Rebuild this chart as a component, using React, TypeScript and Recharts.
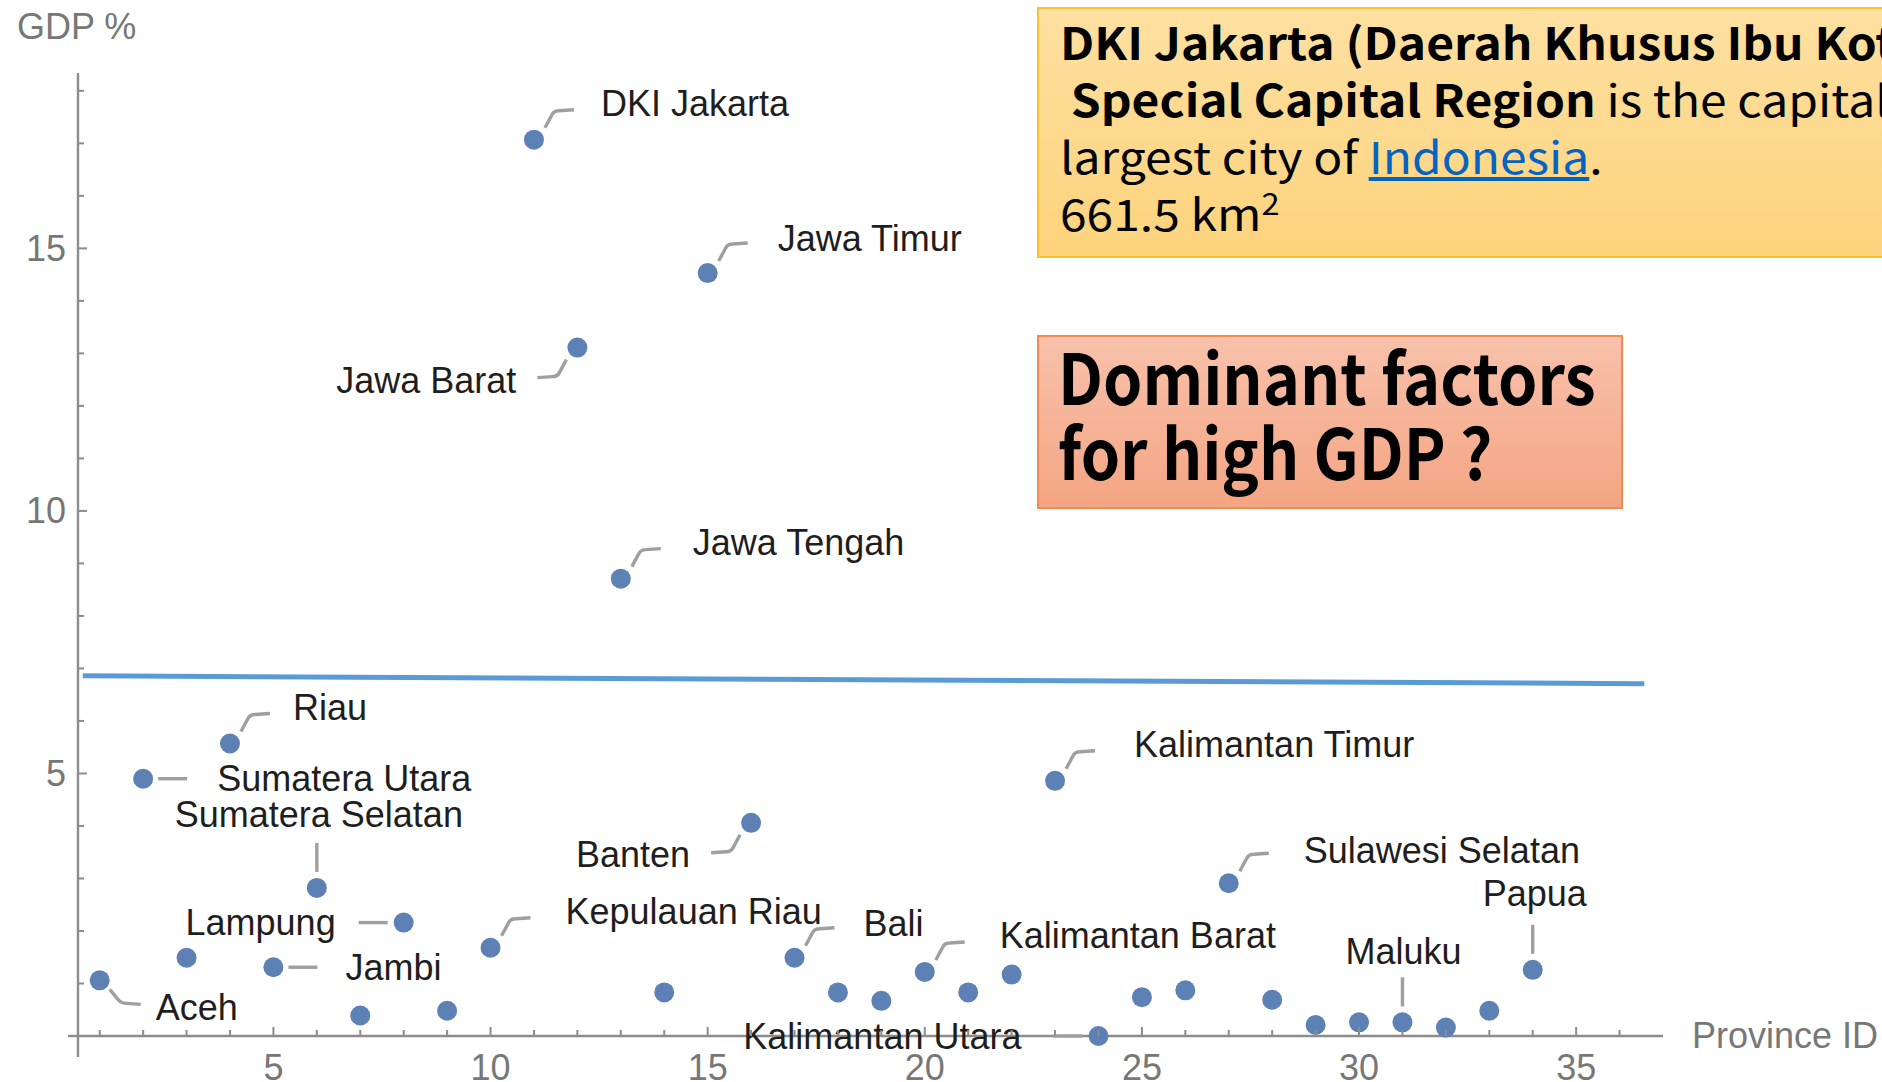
import React from "react";
import { Label, ReferenceLine, Scatter, ScatterChart, XAxis, YAxis } from "recharts";

if (typeof document !== "undefined") document.body.style.margin = "0";

// province id (BPS order) and share of national GDP, %
const provinceIds = [
  1, 2, 3, 4, 5, 6, 7, 8, 9, 10, 11, 12, 13, 14, 15, 16, 17,
  18, 19, 20, 21, 22, 23, 24, 25, 26, 27, 28, 29, 30, 31, 32, 33, 34,
];
const gdpShare = [
  1.06, 4.9, 1.49, 5.57, 1.31, 2.82, 0.39, 2.16, 0.48, 1.68, 17.07, 13.11, 8.71, 0.83, 14.53, 4.06, 1.49,
  0.83, 0.67, 1.22, 0.83, 1.17, 4.86, 0.0, 0.74, 0.87, 2.91, 0.69, 0.21, 0.26, 0.26, 0.16, 0.48, 1.26,
];
const calloutNames: Record<number, string> = {
  1: "Aceh",
  2: "Sumatera Utara",
  4: "Riau",
  5: "Jambi",
  6: "Sumatera Selatan",
  8: "Lampung",
  10: "Kepulauan Riau",
  11: "DKI Jakarta",
  12: "Jawa Barat",
  13: "Jawa Tengah",
  15: "Jawa Timur",
  16: "Banten",
  17: "Bali",
  20: "Kalimantan Barat",
  23: "Kalimantan Timur",
  24: "Kalimantan Utara",
  27: "Sulawesi Selatan",
  31: "Maluku",
  34: "Papua",
};

const xTicks = [
  1, 2, 3, 4, 5, 6, 7, 8, 9, 10, 11, 12, 13, 14, 15, 16, 17, 18,
  19, 20, 21, 22, 23, 24, 25, 26, 27, 28, 29, 30, 31, 32, 33, 34, 35, 36,
];
const xLabels = [5, 10, 15, 20, 25, 30, 35];
const yTicks = [1, 2, 3, 4, 5, 6, 7, 8, 9, 10, 11, 12, 13, 14, 15, 16, 17, 18];
const yLabels = [5, 10, 15];

// hand drawn divider on the slide
const dividerLine = [
  { x: 0.61, y: 6.86 },
  { x: 36.57, y: 6.71 },
];

const data = provinceIds.map((id, i) => ({ id, gdp: gdpShare[i], name: calloutNames[id] }));

// where each callout sits around its dot
type Dir = "ur" | "dl" | "dr" | "r" | "l" | "u";
const calloutPlace: Record<string, { dir: Dir; dx: number; dy: number }> = {
  "DKI Jakarta": { dir: "ur", dx: 67, dy: -36 },
  "Jawa Timur": { dir: "ur", dx: 70, dy: -35 },
  "Jawa Barat": { dir: "dl", dx: -61, dy: 33 },
  "Jawa Tengah": { dir: "ur", dx: 72, dy: -36 },
  Riau: { dir: "ur", dx: 63, dy: -36 },
  "Sumatera Utara": { dir: "r", dx: 74, dy: 0 },
  "Sumatera Selatan": { dir: "u", dx: 2, dy: -73 },
  Lampung: { dir: "l", dx: -68, dy: 0 },
  Jambi: { dir: "r", dx: 72, dy: 0 },
  Aceh: { dir: "dr", dx: 56, dy: 27 },
  "Kepulauan Riau": { dir: "ur", dx: 75, dy: -36 },
  Banten: { dir: "dl", dx: -61, dy: 32 },
  Bali: { dir: "ur", dx: 69, dy: -34 },
  "Kalimantan Barat": { dir: "ur", dx: 75, dy: -36 },
  "Kalimantan Timur": { dir: "ur", dx: 79, dy: -36 },
  "Kalimantan Utara": { dir: "l", dx: -77, dy: 0 },
  "Sulawesi Selatan": { dir: "ur", dx: 75, dy: -33 },
  Maluku: { dir: "u", dx: 1, dy: -71 },
  Papua: { dir: "u", dx: 2, dy: -76 },
};

const leaderPath: Record<Dir, string> = {
  ur: "M11,-12 L18,-25 Q20,-29 25,-29 L40,-30",
  dl: "M-11,12 L-18,25 Q-20,29 -25,29 L-40,30",
  dr: "M10,9 L19,20 Q22,23 27,23 L41,24",
  r: "M15,0 L44,0",
  l: "M-16,0 L-45,0",
  u: "M0,-16 L0,-45",
};

const AXIS = "#8c8c8c";
const LABEL_FONT = "'Liberation Sans', Arial, sans-serif";

function ProvinceDot(props: any) {
  const { cx, cy, payload } = props;
  const place = payload.name ? calloutPlace[payload.name] : undefined;
  let anchor: "start" | "end" | "middle" = "start";
  if (place && (place.dir === "dl" || place.dir === "l")) anchor = "end";
  if (place && place.dir === "u") anchor = "middle";
  return (
    <g>
      <circle cx={cx} cy={cy} r={10} fill="#5e81b5" />
      {place && (
        <g>
          <path
            d={leaderPath[place.dir]}
            transform={`translate(${cx},${cy})`}
            fill="none"
            stroke="#9f9f9f"
            strokeWidth={3.4}
          />
          <text
            x={cx + place.dx}
            y={cy + place.dy}
            textAnchor={anchor}
            dominantBaseline="central"
            fontFamily={LABEL_FONT}
            fontSize={36}
            fill="#1e1e1e"
          >
            {payload.name}
          </text>
        </g>
      )}
    </g>
  );
}

function XTick(props: any) {
  const { x, y, payload } = props;
  const major = xLabels.includes(payload.value);
  return (
    <g>
      <line x1={x} y1={y} x2={x} y2={y - (major ? 9 : 6)} stroke={AXIS} strokeWidth={2} />
      {major && (
        <text x={x} y={y + 31} textAnchor="middle" dominantBaseline="central" fontFamily={LABEL_FONT} fontSize={36} fill="#777">
          {payload.value}
        </text>
      )}
    </g>
  );
}

function YTick(props: any) {
  const { x, y, payload } = props;
  const major = yLabels.includes(payload.value);
  return (
    <g>
      <line x1={x} y1={y} x2={x + (major ? 9 : 6)} y2={y} stroke={AXIS} strokeWidth={2} />
      {major && (
        <text x={x - 12} y={y} textAnchor="end" dominantBaseline="central" fontFamily={LABEL_FONT} fontSize={36} fill="#777">
          {payload.value}
        </text>
      )}
    </g>
  );
}

export default function App() {
  return (
    <div style={{ position: "relative", width: 1882, height: 1082, overflow: "hidden", background: "#fff" }}>
      <ScatterChart width={1882} height={1082} margin={{ top: 73, right: 219, bottom: 0, left: 0 }}>
        <XAxis
          type="number"
          dataKey="id"
          domain={[0.5, 37]}
          ticks={xTicks}
          interval={0}
          tick={<XTick />}
          tickSize={0}
          tickMargin={0}
          tickLine={false}
          axisLine={{ stroke: AXIS, strokeWidth: 2.4 }}
          height={46}
        >
          <Label
            content={() => (
              <text x={1692} y={1035} dominantBaseline="central" fontFamily={LABEL_FONT} fontSize={36} fill="#777">
                Province ID
              </text>
            )}
          />
        </XAxis>
        <YAxis
          type="number"
          dataKey="gdp"
          domain={[0, 18.34]}
          ticks={yTicks}
          interval={0}
          tick={<YTick />}
          tickSize={0}
          tickMargin={0}
          tickLine={false}
          axisLine={{ stroke: AXIS, strokeWidth: 2.4 }}
          width={78}
        >
          <Label
            content={() => (
              <text x={17} y={26} dominantBaseline="central" fontFamily={LABEL_FONT} fontSize={36} fill="#777">
                GDP %
              </text>
            )}
          />
        </YAxis>
        <ReferenceLine
          segment={[{ x: 0.27, y: 0 }, { x: 0.5, y: 0 }]}
          stroke={AXIS}
          strokeWidth={2.4}
          ifOverflow="visible"
        />
        <ReferenceLine
          segment={[{ x: 0.5, y: 0 }, { x: 0.5, y: -0.4 }]}
          stroke={AXIS}
          strokeWidth={2.4}
          ifOverflow="visible"
        />
        <Scatter data={data} shape={<ProvinceDot />} isAnimationActive={false} />
        <ReferenceLine segment={dividerLine} stroke="#5b9bd5" strokeWidth={5} ifOverflow="visible" />
      </ScatterChart>

      <div
        style={{
          position: "absolute",
          left: 1037,
          top: 7,
          width: 1000,
          height: 251,
          boxSizing: "border-box",
          border: "2px solid #fbc02d",
          background: "linear-gradient(180deg, #fee0a1 0%, #fdd37c 100%)",
          padding: "4px 0 0 21px",
          fontFamily: "'Noto Sans CJK JP', 'Noto Sans', sans-serif",
          fontSize: 44,
          lineHeight: "57px",
          color: "#000",
          whiteSpace: "nowrap",
        }}
      >
        <div style={{ transform: "scaleX(1.09)", transformOrigin: "0 0" }}>
          <div>
            <b>DKI Jakarta (Daerah Khusus Ibu Kota Jakarta),</b>
          </div>
          <div>
            &nbsp;<b>Special Capital Region</b> is the capital and
          </div>
          <div>
            largest city of <span style={{ color: "#0563c1", textDecoration: "underline" }}>Indonesia</span>.
          </div>
          <div>
            661.5 km<sup style={{ fontSize: 30, lineHeight: 0 }}>2</sup>
          </div>
        </div>
      </div>

      <div
        style={{
          position: "absolute",
          left: 1037,
          top: 335,
          width: 586,
          height: 174,
          boxSizing: "border-box",
          border: "2px solid #f28c4e",
          background: "linear-gradient(180deg, #f8c1ab 0%, #f4a583 100%)",
          padding: "0 0 0 19px",
          fontFamily: "'Noto Sans CJK JP', 'Noto Sans', sans-serif",
          fontSize: 70,
          fontWeight: 700,
          lineHeight: "75px",
          color: "#000",
          whiteSpace: "nowrap",
        }}
      >
        <div style={{ transform: "scaleX(0.9)", transformOrigin: "0 0" }}>
          <div>Dominant factors</div>
          <div>for high GDP ?</div>
        </div>
      </div>
    </div>
  );
}
